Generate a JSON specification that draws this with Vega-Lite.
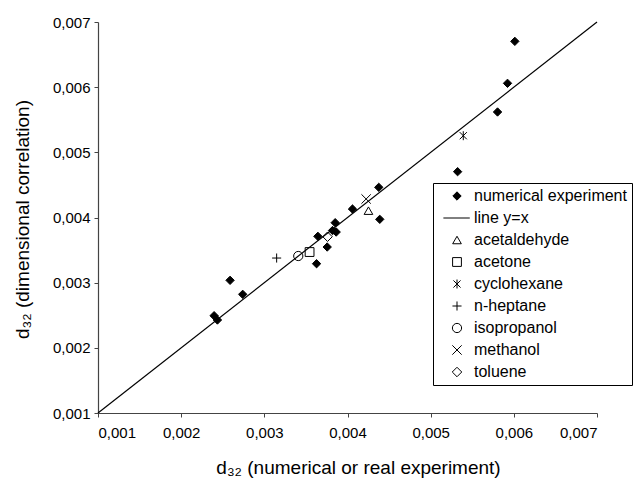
{
  "$schema": "https://vega.github.io/schema/vega-lite/v6.json",
  "autosize": "none",
  "padding": {"left": 98, "top": 22, "right": 47, "bottom": 66},
  "width": 499,
  "height": 391,
  "background": "white",
  "config": {
    "view": {"stroke": null},
    "font": "Liberation Sans",
    "axis": {
      "grid": false,
      "domainColor": "#444",
      "domainWidth": 1.2,
      "tickColor": "#444",
      "tickSize": 4,
      "labelFont": "Liberation Sans",
      "labelFontSize": 15,
      "labelColor": "black",
      "titleFont": "Liberation Sans",
      "titleFontSize": 19,
      "titleFontWeight": "normal",
      "titleColor": "black"
    },
    "legend": {
      "orient": "none",
      "legendX": 335,
      "legendY": 161,
      "padding": 5,
      "strokeColor": "black",
      "strokeWidth": 1,
      "fillColor": "white",
      "labelFont": "Liberation Sans",
      "labelFontSize": 16,
      "labelColor": "black",
      "rowPadding": 6,
      "symbolOffset": 11,
      "labelOffset": 9,
      "symbolStrokeColor": "black",
      "symbolStrokeWidth": 1
    }
  },
  "layer": [
    {
      "data": {"values": [{"x": 0.001, "y": 0.001}, {"x": 0.007, "y": 0.007}]},
      "mark": {"type": "line", "color": "black", "strokeWidth": 1.2},
      "encoding": {
        "x": {"field": "x", "type": "quantitative"},
        "y": {"field": "y", "type": "quantitative"}
      }
    },
    {
      "data": {"values": [
        {"series": "numerical experiment", "x": 0.006012, "y": 0.006703},
        {"series": "numerical experiment", "x": 0.005924, "y": 0.006059},
        {"series": "numerical experiment", "x": 0.005804, "y": 0.005619},
        {"series": "numerical experiment", "x": 0.005324, "y": 0.004703},
        {"series": "numerical experiment", "x": 0.004376, "y": 0.004463},
        {"series": "numerical experiment", "x": 0.004388, "y": 0.003972},
        {"series": "numerical experiment", "x": 0.00406, "y": 0.00413},
        {"series": "numerical experiment", "x": 0.003852, "y": 0.00392},
        {"series": "numerical experiment", "x": 0.003864, "y": 0.003777},
        {"series": "numerical experiment", "x": 0.00382, "y": 0.0038},
        {"series": "numerical experiment", "x": 0.003644, "y": 0.003711},
        {"series": "numerical experiment", "x": 0.003756, "y": 0.003547},
        {"series": "numerical experiment", "x": 0.003628, "y": 0.003291},
        {"series": "numerical experiment", "x": 0.002588, "y": 0.003036},
        {"series": "numerical experiment", "x": 0.00274, "y": 0.002821},
        {"series": "numerical experiment", "x": 0.002396, "y": 0.002493},
        {"series": "numerical experiment", "x": 0.002436, "y": 0.002427},
        {"series": "acetaldehyde", "x": 0.004252, "y": 0.004105},
        {"series": "acetone", "x": 0.003544, "y": 0.00347},
        {"series": "cyclohexane", "x": 0.005392, "y": 0.005255},
        {"series": "n-heptane", "x": 0.003148, "y": 0.003378},
        {"series": "isopropanol", "x": 0.003408, "y": 0.003409},
        {"series": "methanol", "x": 0.004224, "y": 0.004284},
        {"series": "toluene", "x": 0.00376, "y": 0.003705}
      ]},
      "mark": {"type": "point", "strokeWidth": 1, "opacity": 1},
      "encoding": {
        "x": {
          "field": "x", "type": "quantitative",
          "scale": {"domain": [0.001, 0.007], "nice": false, "zero": false},
          "axis": {
            "values": [0.001, 0.002, 0.003, 0.004, 0.005, 0.006, 0.007],
            "labelExpr": "replace(format(datum.value, '.3f'), '.', ',')",
            "labelPadding": 8,
            "title": "d₃₂ (numerical or real experiment)",
            "titleX": 260,
            "titleY": 60,
            "titleBaseline": "alphabetic",
            "titleAnchor": "middle"
          }
        },
        "y": {
          "field": "y", "type": "quantitative",
          "scale": {"domain": [0.001, 0.007], "nice": false, "zero": false},
          "axis": {
            "values": [0.001, 0.002, 0.003, 0.004, 0.005, 0.006, 0.007],
            "labelExpr": "replace(format(datum.value, '.3f'), '.', ',')",
            "labelPadding": 4,
            "title": "d₃₂ (dimensional correlation)",
            "titleX": -70,
            "titleY": 197,
            "titleAngle": -90,
            "titleAlign": "center",
            "titleBaseline": "alphabetic"
          }
        },
        "shape": {
          "field": "series", "type": "nominal", "title": null,
          "scale": {
            "domain": ["numerical experiment", "line y=x", "acetaldehyde", "acetone", "cyclohexane", "n-heptane", "isopropanol", "methanol", "toluene"],
            "range": ["diamond", "M-3.2,0H3", "triangle-up", "square", "M-0.8,-0.8L0.8,0.8M-0.8,0.8L0.8,-0.8M0,-1V1", "M-1,0H1M0,-1V1", "circle", "M-1,-1L1,1M-1,1L1,-1", "diamond"]
          }
        },
        "stroke": {
          "field": "series", "type": "nominal", "title": null,
          "scale": {
            "domain": ["numerical experiment", "line y=x", "acetaldehyde", "acetone", "cyclohexane", "n-heptane", "isopropanol", "methanol", "toluene"],
            "range": ["black", "black", "black", "black", "black", "black", "black", "black", "black"]
          }
        },
        "fill": {
          "field": "series", "type": "nominal", "title": null,
          "scale": {
            "domain": ["numerical experiment", "line y=x", "acetaldehyde", "acetone", "cyclohexane", "n-heptane", "isopropanol", "methanol", "toluene"],
            "range": ["black", "transparent", "transparent", "transparent", "transparent", "transparent", "transparent", "transparent", "transparent"]
          }
        },
        "size": {
          "field": "series", "type": "nominal", "title": null,
          "scale": {
            "domain": ["numerical experiment", "line y=x", "acetaldehyde", "acetone", "cyclohexane", "n-heptane", "isopropanol", "methanol", "toluene"],
            "range": [70, 90, 80, 70, 100, 130, 100, 110, 100]
          }
        }
      }
    }
  ]
}
